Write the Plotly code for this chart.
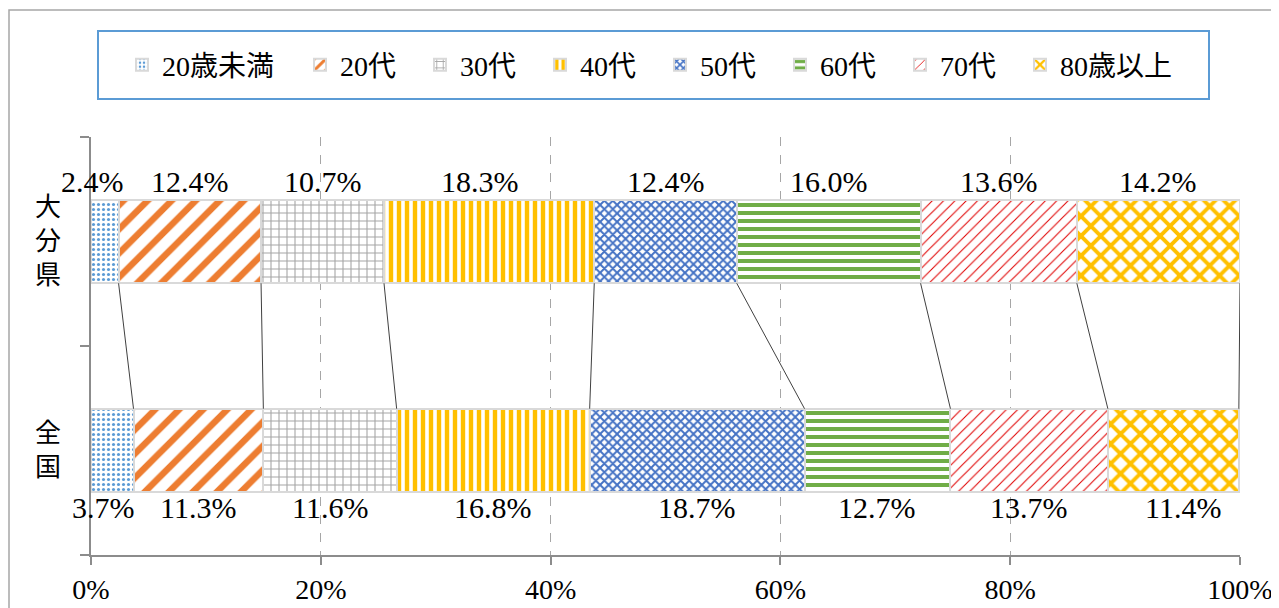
import plotly.graph_objects as go

# ---- data ----
regions = ["大分県", "全国"]
age_groups = ["20歳未満", "20代", "30代", "40代", "50代", "60代", "70代", "80歳以上"]
oita = [2.4, 12.4, 10.7, 18.3, 12.4, 16.0, 13.6, 14.2]
zenkoku = [3.7, 11.3, 11.6, 16.8, 18.7, 12.7, 13.7, 11.4]
x_ticks = [0, 20, 40, 60, 80, 100]

# ---- styles ----
# the page body has an 8px margin, so the figure is offset by 8px
OFF = 8
W, H = 1279 - OFF, 608 - OFF
ML, MR, MT, MB = 91 - OFF, 39, 137 - OFF, 53
PW, PH = W - ML - MR, H - MT - MB
FONT = "Liberation Serif, Noto Sans CJK JP, serif"

patterns = [
    dict(shape=".", fgcolor="#5B9BD5", size=5, solidity=0.3),
    dict(shape="/", fgcolor="#ED7D31", size=17, solidity=0.38),
    dict(shape="+", fgcolor="#A5A5A5", size=8, solidity=0.25),
    dict(shape="|", fgcolor="#FFC000", size=8, solidity=0.55),
    dict(shape="x", fgcolor="#4472C4", size=6, solidity=0.55),
    dict(shape="-", fgcolor="#70AD47", size=8, solidity=0.5),
    dict(shape="/", fgcolor="#E00000", size=8, solidity=0.13),
    dict(shape="x", fgcolor="#FFC000", size=14, solidity=0.48),
]
legend_widths = [133, 75, 75, 75, 75, 75, 75, 125]
# manual nudges of some data labels (pixels), as in the original chart
label_dx_oita = [-12, 0, 0, -9, 0, 0, 0, 0]
label_dx_zenkoku = [-9, 0, 0, 0, 0, 0, 0, 10]


# helpers: convert reference page pixels to paper coordinates
def px_x(p):
    return (p - OFF - ML) / PW


def px_y(p):
    return (H - MB - (p - OFF)) / PH


y_pos = {"大分県": 1, "全国": 0}
bar_w = 0.4

fig = go.Figure()
for i, name in enumerate(age_groups):
    pat = dict(patterns[i])
    pat.update(bgcolor="white", fillmode="replace")
    fig.add_trace(go.Bar(
        name=name,
        orientation="h",
        x=[oita[i], zenkoku[i]],
        y=[y_pos["大分県"], y_pos["全国"]],
        width=bar_w,
        marker=dict(color="white", pattern=pat, line=dict(color="#D9D9D9", width=2)),
        legendwidth=legend_widths[i],
        hoverinfo="skip",
    ))

annotations = []
shapes = []


def cumulative(vals):
    out, s = [], 0.0
    for v in vals:
        s += v
        out.append(s)
    return out


cum_o = cumulative(oita)
cum_z = cumulative(zenkoku)
for i in range(len(age_groups)):
    annotations.append(dict(
        x=cum_o[i] - oita[i] / 2, y=y_pos["大分県"] + bar_w / 2, xref="x", yref="y",
        xshift=label_dx_oita[i],
        text=f"{oita[i]:.1f}%", showarrow=False, yanchor="bottom",
        font=dict(family=FONT, size=30, color="black")))
    annotations.append(dict(
        x=cum_z[i] - zenkoku[i] / 2, y=y_pos["全国"] - bar_w / 2, xref="x", yref="y",
        xshift=label_dx_zenkoku[i], yshift=3,
        text=f"{zenkoku[i]:.1f}%", showarrow=False, yanchor="top",
        font=dict(family=FONT, size=30, color="black")))

# category labels (vertical)
for r in regions:
    annotations.append(dict(
        x=px_x(48), y=y_pos[r], xref="paper", yref="y",
        text="<br>".join(list(r)), showarrow=False, xanchor="center", yanchor="middle",
        font=dict(family=FONT, size=26, color="black")))

# series lines
for i in range(len(age_groups)):
    shapes.append(dict(type="line", xref="x", yref="y",
                       x0=cum_o[i], y0=y_pos["大分県"] - bar_w / 2,
                       x1=cum_z[i], y1=y_pos["全国"] + bar_w / 2,
                       line=dict(color="#404040", width=1)))

# legend frame
shapes.append(dict(type="rect", xref="paper", yref="paper",
                   x0=px_x(98), x1=px_x(1209), y0=px_y(31), y1=px_y(99),
                   line=dict(color="#5B9BD5", width=2), layer="below"))
# outer chart border
shapes.append(dict(type="rect", xref="paper", yref="paper",
                   x0=px_x(9), x1=px_x(1300), y0=px_y(10), y1=px_y(640),
                   line=dict(color="#A6A6A6", width=1.5), layer="below"))

fig.update_layout(
    width=W, height=H,
    margin=dict(l=ML, r=MR, t=MT, b=MB, pad=0, autoexpand=False),
    barmode="stack",
    plot_bgcolor="white", paper_bgcolor="white",
    font=dict(family=FONT, size=28, color="black"),
    showlegend=True,
    legend=dict(orientation="h", xref="container", yref="container",
                x=(122 - OFF) / W, xanchor="left", y=1 - (65 - OFF) / H, yanchor="middle",
                font=dict(family=FONT, size=28, color="black"),
                bgcolor="rgba(0,0,0,0)", borderwidth=0, traceorder="normal"),
    annotations=annotations,
    shapes=shapes,
)
fig.update_xaxes(range=[0, 100], tickvals=x_ticks, ticktext=[f"{t}%" for t in x_ticks],
                 showgrid=True, gridcolor="#A6A6A6", griddash="dash", gridwidth=1,
                 showline=True, linecolor="#8C8C8C", linewidth=2, automargin=False,
                 ticks="outside", ticklen=8, tickcolor="#8C8C8C", tickwidth=2,
                 zeroline=False, tickfont=dict(family=FONT, size=28, color="black"))
fig.update_yaxes(range=[-0.5, 1.5], tickvals=[-0.5, 0.5, 1.5], showticklabels=False,
                 showgrid=False, zeroline=False, showline=True, linecolor="#8C8C8C", linewidth=2,
                 automargin=False,
                 ticks="outside", ticklen=9, tickcolor="#8C8C8C", tickwidth=2)

fig.write_html("out.html")
